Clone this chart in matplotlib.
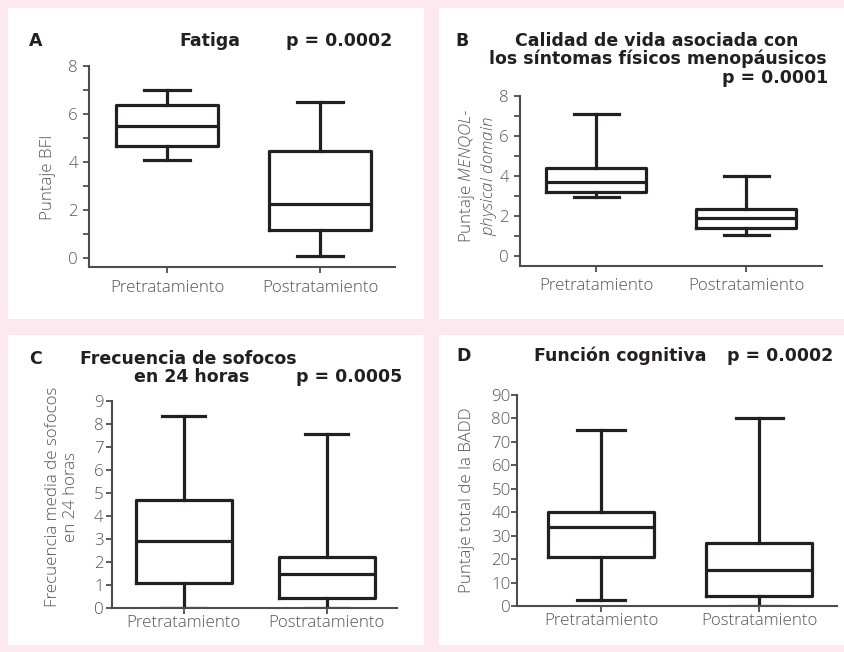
import matplotlib
matplotlib.use('Agg')
import matplotlib.pyplot as plt
from matplotlib.patches import Rectangle
from matplotlib.ticker import MultipleLocator

# grupos
cats = ['Pretratamiento', 'Postratamiento']

# A - Fatiga (puntaje BFI)
fatiga_min = [4.07, 0.08]
fatiga_q1 = [4.65, 1.15]
fatiga_med = [5.5, 2.26]
fatiga_q3 = [6.36, 4.47]
fatiga_max = [7.01, 6.5]

# B - MENQOL physical domain
menqol_min = [2.93, 1.05]
menqol_q1 = [3.18, 1.40]
menqol_med = [3.71, 1.88]
menqol_q3 = [4.41, 2.35]
menqol_max = [7.07, 3.98]

# C - sofocos en 24 horas
sofocos_min = [0.0, 0.0]
sofocos_q1 = [1.08, 0.46]
sofocos_med = [2.92, 1.49]
sofocos_q3 = [4.68, 2.24]
sofocos_max = [8.35, 7.57]

# D - BADD
badd_min = [2.6, 0.0]
badd_q1 = [20.8, 4.3]
badd_med = [33.8, 15.5]
badd_q3 = [40.2, 26.7]
badd_max = [75.2, 80.0]

W, H = 845, 652
PINK = '#fce8ee'
DARK = '#231f20'
AXC = '#4d4d4d'
GRAY = '#555555'
FS = 12.2
LIGHT = dict(family='Open Sans', weight='light')

plt.rcParams['mathtext.fontset'] = 'custom'
plt.rcParams['mathtext.it'] = 'Open Sans:italic:light'
plt.rcParams['mathtext.rm'] = 'Open Sans:light'


def fx(x):
    return x / W


def fy(y):
    return 1 - y / H


def stats(lo, q1, med, q3, hi):
    return [dict(label=c, whislo=lo[i], q1=q1[i], med=med[i], q3=q3[i],
                 whishi=hi[i], fliers=[]) for i, c in enumerate(cats)]


fig = plt.figure(figsize=(W / 100, H / 100), dpi=100)
fig.patch.set_facecolor(PINK)

# paneles blancos
for (x0, y0, x1, y1) in [(8, 8, 424, 319), (439, 8, 845, 319),
                         (8, 335, 424, 645), (439, 335, 845, 645)]:
    fig.patches.append(Rectangle((fx(x0), fy(y1)), fx(x1) - fx(x0), fy(y0) - fy(y1),
                                 transform=fig.transFigure, facecolor='white',
                                 edgecolor='none', zorder=-10))


def make_ax(left, right, top, bottom, ylim, xlim, st, major, minor, ypad, xpad):
    ax = fig.add_axes([fx(left), fy(bottom), fx(right) - fx(left), fy(top) - fy(bottom)])
    ax.set_facecolor('none')
    ax.bxp(st, positions=[1, 2], widths=0.67, capwidths=0.3, showfliers=False,
           boxprops=dict(color=DARK, linewidth=2.3),
           whiskerprops=dict(color=DARK, linewidth=2.3),
           capprops=dict(color=DARK, linewidth=2.3),
           medianprops=dict(color=DARK, linewidth=2.3))
    ax.set_ylim(*ylim)
    ax.set_xlim(*xlim)
    for s in ['top', 'right']:
        ax.spines[s].set_visible(False)
    for s in ['left', 'bottom']:
        ax.spines[s].set_color(AXC)
        ax.spines[s].set_linewidth(1.5)
    ax.yaxis.set_major_locator(MultipleLocator(major))
    if minor:
        ax.yaxis.set_minor_locator(MultipleLocator(minor))
    ax.tick_params(axis='y', which='both', length=4, width=1.3, color=AXC,
                   labelcolor=GRAY, labelsize=FS, pad=ypad)
    ax.tick_params(axis='x', length=4, width=1.3, color=AXC,
                   labelcolor=GRAY, labelsize=FS, pad=xpad)
    ax.set_xticks([1, 2])
    ax.set_xticklabels(cats)
    for lab in ax.get_xticklabels() + ax.get_yticklabels():
        lab.set_fontfamily('Open Sans')
        lab.set_fontweight('light')
    return ax


axA = make_ax(89, 395, 66, 267, (-0.375, 8), (0.49, 2.49),
              stats(fatiga_min, fatiga_q1, fatiga_med, fatiga_q3, fatiga_max), 2, 1, 4, 5)
axB = make_ax(520, 822, 95.7, 265.7, (-0.48, 8), (0.493, 2.505),
              stats(menqol_min, menqol_q1, menqol_med, menqol_q3, menqol_max), 2, 1, 4, 5)
axC = make_ax(112, 397, 400.7, 608.3, (0, 9), (0.497, 2.49),
              stats(sofocos_min, sofocos_q1, sofocos_med, sofocos_q3, sofocos_max), 1, None, 2, 1)
axD = make_ax(517, 837, 395, 606, (0, 90), (0.468, 2.49),
              stats(badd_min, badd_q1, badd_med, badd_q3, badd_max), 10, None, 0.5, 1)

# etiquetas del eje y
yl = dict(color=GRAY, fontsize=FS, va='center', **LIGHT)
axA.set_ylabel('Puntaje BFI', **yl)
axA.yaxis.set_label_coords(fx(48), fy(177), transform=fig.transFigure)
axB.set_ylabel('Puntaje $\\mathit{MENQOL}$-\n$\\mathit{physical\\ domain}$',
               linespacing=1.15, **yl)
axB.yaxis.set_label_coords(fx(478), fy(176), transform=fig.transFigure)
axC.set_ylabel('Frecuencia media de sofocos\nen 24 horas', linespacing=1.15, **yl)
axC.yaxis.set_label_coords(fx(62), fy(497), transform=fig.transFigure)
axD.set_ylabel('Puntaje total de la BADD', **yl)
axD.yaxis.set_label_coords(fx(467), fy(500), transform=fig.transFigure)

# titulos
tk = dict(color=DARK, fontsize=12.5, fontweight='bold', va='center')
fig.text(fx(29), fy(41), 'A', ha='left', **tk)
fig.text(fx(210), fy(41), 'Fatiga', ha='center', **tk)
fig.text(fx(392), fy(41), 'p = 0.0002', ha='right', **tk)

fig.text(fx(455), fy(41), 'B', ha='left', **tk)
fig.text(fx(657), fy(41), 'Calidad de vida asociada con', ha='center', **tk)
fig.text(fx(658), fy(59), 'los síntomas físicos menopáusicos', ha='center', **tk)
fig.text(fx(828), fy(78), 'p = 0.0001', ha='right', **tk)

fig.text(fx(29), fy(359), 'C', ha='left', **tk)
fig.text(fx(188), fy(359), 'Frecuencia de sofocos', ha='center', **tk)
fig.text(fx(192), fy(377), 'en 24 horas', ha='center', **tk)
fig.text(fx(402), fy(377), 'p = 0.0005', ha='right', **tk)

fig.text(fx(456), fy(356), 'D', ha='left', **tk)
fig.text(fx(620), fy(356), 'Función cognitiva', ha='center', **tk)
fig.text(fx(833), fy(356), 'p = 0.0002', ha='right', **tk)

fig.savefig('out.png', dpi=100, facecolor=PINK)
